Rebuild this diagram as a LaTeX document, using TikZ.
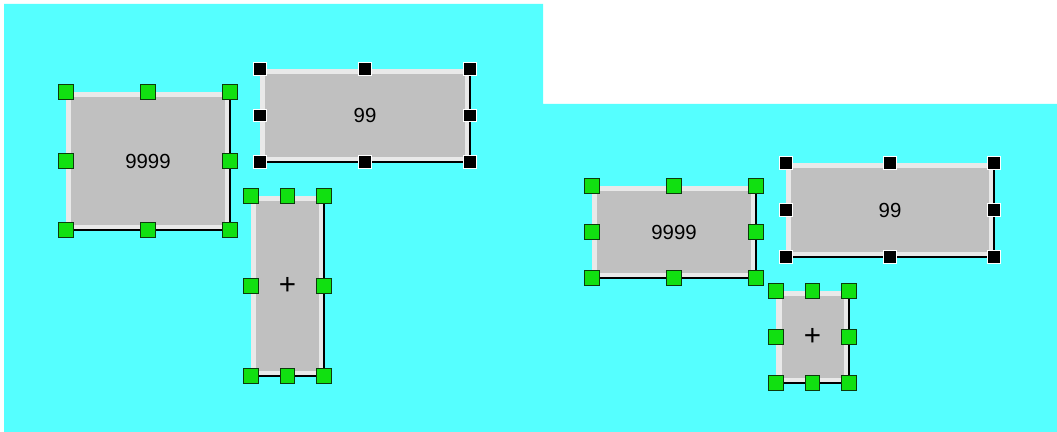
\documentclass[tikz,border=0pt]{standalone}
\usepackage{fontspec}
\setmainfont{Liberation Sans}
\usepackage{tikz}
\usetikzlibrary{positioning,calc}
\definecolor{PanelCyan}{HTML}{55FFFF}
\definecolor{BoxGray}{HTML}{C0C0C0}
\definecolor{BoxLight}{HTML}{E9E9E9}
\definecolor{GripGreen}{HTML}{11E011}
\definecolor{GripRim}{HTML}{0C3A0C}

\begin{document}
\begin{tikzpicture}[
  x=0.025cm,y=-0.025cm,
  widget/.style={inner sep=0pt,outer sep=0pt,fill=BoxLight,
    font=\fontsize{14.5}{16}\selectfont,
    path picture={\fill[BoxGray]
      ([shift={(5.5,5)}]path picture bounding box.north west) rectangle
      ([shift={(-5,-5)}]path picture bounding box.south east);}},
  plus/.style={font=\fontsize{21}{22}\selectfont},
  edge/.style={draw=black,line width=1.1pt},
  greengrip/.style={draw=GripRim,line width=0.75pt,fill=GripGreen,
    minimum size=0.36cm,inner sep=0pt},
  blackgrip/.style={draw=white,line width=0.6pt,fill=black,
    minimum size=0.32cm,inner sep=0pt}
]
\useasboundingbox (0,0) rectangle (1057,432);
\fill[white] (0,0) rectangle (1057,432);
\fill[PanelCyan] (4,4) -- (543,4) -- (543,104) -- (1057,104) --
  (1057,432) -- (4,432) -- cycle;

% left panel
\node[widget,minimum width=4.1cm,minimum height=3.45cm] (L9999) at (148,161) {9999};
\node[widget,minimum width=5.25cm,minimum height=2.325cm] (L99) at (365,115.5) {99};
\node[widget,plus,minimum width=1.825cm,minimum height=4.5cm] (Lplus) at (287.5,286) {+};

% right panel
\node[widget,minimum width=4.1cm,minimum height=2.3cm] (R9999) at (674,232) {9999};
\node[widget,minimum width=5.2cm,minimum height=2.35cm] (R99) at (890,210) {99};
\node[widget,plus,minimum width=1.825cm,minimum height=2.3cm] (Rplus) at (812.5,337) {+};

\foreach \b in {L9999,L99,Lplus,R9999,R99,Rplus}
  \draw[edge] (\b.north east) -- (\b.south east) -- (\b.south west);

\foreach \b/\g in {L9999/greengrip,Lplus/greengrip,L99/blackgrip,
                   R9999/greengrip,Rplus/greengrip,R99/blackgrip}
  \foreach \a/\s in {north west/nw,north/n,north east/ne,east/e,
                     south east/se,south/s,south west/sw,west/w}
    \node[\g] (\b-\s) at (\b.\a) {};
\end{tikzpicture}
\end{document}
